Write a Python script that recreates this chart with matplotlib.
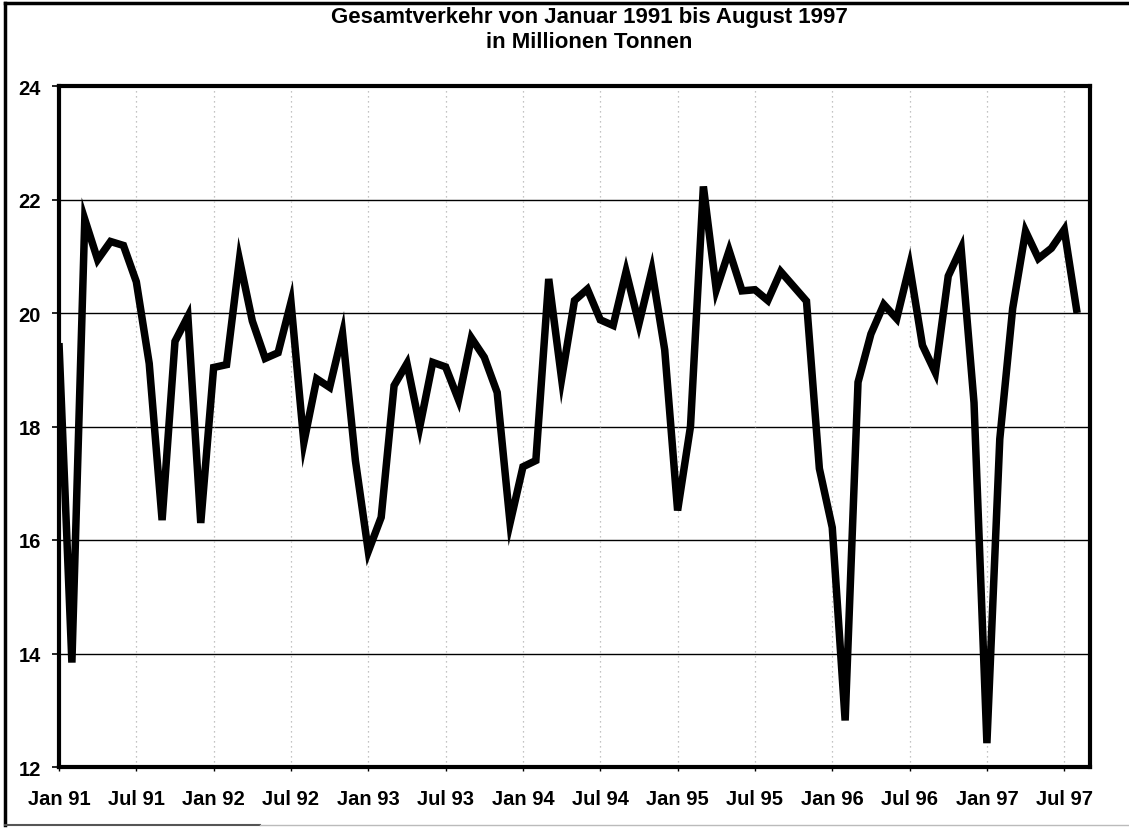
import numpy as np
import matplotlib
matplotlib.use("Agg")
import matplotlib.pyplot as plt
from matplotlib.lines import Line2D

# ---- data -------------------------------------------------------------
title_line1 = "Gesamtverkehr von Januar 1991 bis August 1997"
title_line2 = "in Millionen Tonnen"

values_1991 = [19.47, 13.84, 21.65, 20.94, 21.26, 21.19, 20.55, 19.11, 16.35, 19.50, 19.94, 16.30]
values_1992 = [19.04, 19.09, 20.94, 19.86, 19.20, 19.30, 20.19, 17.72, 18.84, 18.69, 19.64, 17.40]
values_1993 = [15.80, 16.40, 18.72, 19.11, 18.00, 19.13, 19.05, 18.47, 19.56, 19.22, 18.60, 16.30]
values_1994 = [17.29, 17.40, 20.60, 18.84, 20.22, 20.42, 19.88, 19.78, 20.73, 19.81, 20.75, 19.35]
values_1995 = [16.52, 18.00, 22.23, 20.41, 21.10, 20.39, 20.41, 20.22, 20.73, 20.47, 20.21, 17.26]
values_1996 = [16.22, 12.82, 18.78, 19.63, 20.15, 19.90, 20.83, 19.43, 18.95, 20.65, 21.14, 18.42]
values_1997 = [12.42, 17.78, 20.08, 21.44, 20.96, 21.14, 21.47, 20.00]

tick_labels = ["Jan 91", "Jul 91", "Jan 92", "Jul 92", "Jan 93", "Jul 93", "Jan 94",
               "Jul 94", "Jan 95", "Jul 95", "Jan 96", "Jul 96", "Jan 97", "Jul 97"]
y_ticks = [12, 14, 16, 18, 20, 22, 24]

values = (values_1991 + values_1992 + values_1993 + values_1994 +
          values_1995 + values_1996 + values_1997)
months = np.arange(len(values))
tick_pos = np.arange(len(tick_labels)) * 6

# ---- figure -----------------------------------------------------------
W, H = 1129, 829
fig = plt.figure(figsize=(W / 100, H / 100), dpi=100)
fig.patch.set_facecolor("white")

left, right, bottom, top = 59, 1090, 768, 87
ax = fig.add_axes([left / W, 1 - bottom / H, (right - left) / W, (bottom - top) / H])

font = ["Liberation Sans", "DejaVu Sans"]

ax.plot(months, values, color="black", lw=5.4, solid_joinstyle="miter",
        solid_capstyle="butt", zorder=5)

ax.set_xlim(0, 80)
ax.set_ylim(12, 24)
ax.set_yticks(y_ticks)
ax.set_yticklabels([str(v) for v in y_ticks], fontfamily=font, fontweight="bold", fontsize=14.5)
ax.set_xticks(tick_pos)
ax.set_xticklabels(tick_labels, fontfamily=font, fontweight="bold", fontsize=14.5)

ax.tick_params(axis="y", direction="out", length=5, width=1.2, pad=8, colors="black")
ax.tick_params(axis="x", direction="out", length=3, width=1.0, pad=13, colors="black")

# horizontal grid lines (black) and faint dotted vertical lines
for yv in y_ticks[1:-1]:
    ax.axhline(yv, color="black", lw=1.0, zorder=1)
for xv in tick_pos[1:]:
    ax.axvline(xv, color="#b0b0b0", lw=0.9, ls=(0, (1, 3)), zorder=1)

for sp in ax.spines.values():
    sp.set_linewidth(3.0)
    sp.set_color("black")

# title
fig.text(589 / W, 1 - 18 / H, title_line1, ha="center", va="center",
         fontfamily=font, fontweight="bold", fontsize=16)
fig.text(589 / W, 1 - 43 / H, title_line2, ha="center", va="center",
         fontfamily=font, fontweight="bold", fontsize=16)

# outer frame of the scanned chart
fig.add_artist(Line2D([5 / W, 5 / W], [1 - 4 / H, 1 - 826 / H], color="black", lw=2.5,
                      transform=fig.transFigure))
fig.add_artist(Line2D([5 / W, 1.0], [1 - 4 / H, 1 - 4 / H], color="black", lw=2.5,
                      transform=fig.transFigure))
fig.add_artist(Line2D([5 / W, 260 / W], [1 - 826 / H, 1 - 826 / H], color="#555555", lw=1.5,
                      transform=fig.transFigure))
fig.add_artist(Line2D([260 / W, 1.0], [1 - 826 / H, 1 - 826 / H], color="#bbbbbb", lw=1.0,
                      transform=fig.transFigure))

fig.savefig("out.png", dpi=100, facecolor="white")
